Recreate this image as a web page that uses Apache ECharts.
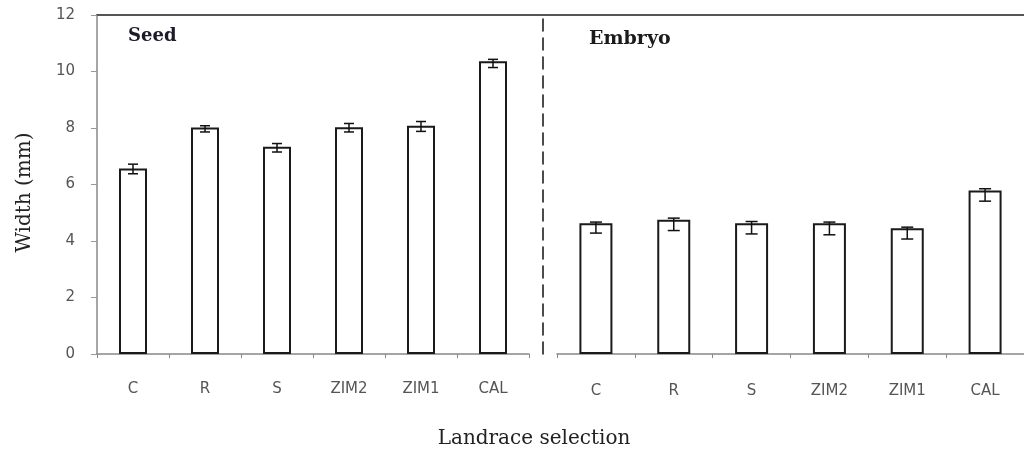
<!DOCTYPE html>
<html>
<head>
<meta charset="utf-8">
<script src="https://cdn.jsdelivr.net/npm/echarts@6/dist/echarts.min.js"></script>
<style>html,body{margin:0;padding:0;background:#fff;}#c{width:1024px;height:451px;}</style>
</head>
<body>
<div id="c"></div>
<script>
var seedCats = ['C', 'R', 'S', 'ZIM2', 'ZIM1', 'CAL'];
var embryoCats = ['C', 'R', 'S', 'ZIM2', 'ZIM1', 'CAL'];
var seedWidth = [6.57, 8.02, 7.34, 8.03, 8.08, 10.36];
var seedErrLow = [6.38, 7.86, 7.15, 7.86, 7.88, 10.14];
var seedErrHigh = [6.72, 8.08, 7.45, 8.16, 8.23, 10.43];
var embryoWidth = [4.63, 4.75, 4.63, 4.63, 4.45, 5.79];
var embryoErrLow = [4.28, 4.37, 4.25, 4.22, 4.07, 5.41];
var embryoErrHigh = [4.67, 4.81, 4.69, 4.67, 4.49, 5.85];
var yTicks = [0, 2, 4, 6, 8, 10, 12];

var chart = echarts.init(document.getElementById('c'), null, {renderer: 'canvas'});

function errItem(capHalf) {
  return function (params, api) {
    var x = api.value(0);
    var lo = api.coord([x, api.value(1)]);
    var hi = api.coord([x, api.value(2)]);
    var st = {stroke: '#111', lineWidth: 1.5};
    return {
      type: 'group',
      children: [
        {type: 'line', shape: {x1: lo[0], y1: lo[1], x2: hi[0], y2: hi[1]}, style: st},
        {type: 'line', shape: {x1: lo[0] - capHalf, y1: lo[1], x2: lo[0] + capHalf, y2: lo[1]}, style: st},
        {type: 'line', shape: {x1: hi[0] - capHalf, y1: hi[1], x2: hi[0] + capHalf, y2: hi[1]}, style: st}
      ]
    };
  };
}

function errData(lo, hi) {
  return lo.map(function (v, i) { return [i, v, hi[i]]; });
}

var tickFont = {fontFamily: 'DejaVu Sans', fontSize: 15, color: '#555'};

var option = {
  backgroundColor: '#fff',
  animation: false,
  title: [
    {text: 'Seed', left: 123, top: 22, textStyle: {fontFamily: 'DejaVu Serif', fontWeight: 'bold', fontSize: 18, color: '#1b1b2b'}},
    {text: 'Embryo', left: 584, top: 25, textStyle: {fontFamily: 'DejaVu Serif', fontWeight: 'bold', fontSize: 19, color: '#1b1b1b'}},
    {text: 'Landrace selection', left: 529, top: 424, textAlign: 'center', textStyle: {fontFamily: 'DejaVu Serif', fontWeight: 'normal', fontSize: 20, color: '#222'}}
  ],
  grid: [
    {left: 97, top: 15, width: 432, height: 339},
    {left: 557, top: 15, width: 480, height: 339},
    {left: 97, top: 15, width: 940, height: 339}
  ],
  xAxis: [
    {type: 'category', gridIndex: 0, data: seedCats,
      axisLine: {lineStyle: {color: '#888', width: 1.5}},
      axisTick: {show: true, length: 4, lineStyle: {color: '#888'}},
      axisLabel: Object.assign({margin: 28}, tickFont)},
    {type: 'category', gridIndex: 1, data: embryoCats,
      axisLine: {onZero: false, lineStyle: {color: '#888', width: 1.5}},
      axisTick: {show: true, length: 4, lineStyle: {color: '#888'}},
      axisLabel: Object.assign({margin: 30}, tickFont)},
    {type: 'value', gridIndex: 2, position: 'top', min: 0, max: 1,
      axisLine: {show: true, onZero: false, lineStyle: {color: '#555', width: 2}},
      axisTick: {show: false}, axisLabel: {show: false}, splitLine: {show: false}}
  ],
  yAxis: [
    {type: 'value', gridIndex: 0, min: 0, max: 12, interval: 2,
      name: 'Width (mm)', nameLocation: 'middle', nameGap: 62, nameRotate: 90,
      nameTextStyle: {fontFamily: 'DejaVu Serif', fontSize: 20, color: '#222', padding: [0, 16, 0, 0]},
      axisLine: {show: true, lineStyle: {color: '#888', width: 1.5}},
      axisTick: {show: true, length: 6, lineStyle: {color: '#999'}},
      axisLabel: Object.assign({margin: 22, formatter: function (v) { return yTicks.indexOf(v) >= 0 ? String(v) : ''; }}, tickFont),
      splitLine: {show: false}},
    {type: 'value', gridIndex: 1, min: 0, max: 12, interval: 2, offset: 14,
      axisLine: {show: true, lineStyle: {color: '#111', width: 1.5, type: [12, 7]}},
      axisTick: {show: false}, axisLabel: {show: false}, splitLine: {show: false}},
    {type: 'value', gridIndex: 2, min: 0, max: 1, show: false}
  ],
  series: [
    {type: 'bar', xAxisIndex: 0, yAxisIndex: 0, data: seedWidth, barWidth: 28,
      itemStyle: {color: '#fff', borderColor: '#1a1a1a', borderWidth: 2}},
    {type: 'custom', xAxisIndex: 0, yAxisIndex: 0, data: errData(seedErrLow, seedErrHigh),
      renderItem: errItem(5), z: 5},
    {type: 'bar', xAxisIndex: 1, yAxisIndex: 1, data: embryoWidth, barWidth: 33,
      itemStyle: {color: '#fff', borderColor: '#1a1a1a', borderWidth: 2}},
    {type: 'custom', xAxisIndex: 1, yAxisIndex: 1, data: errData(embryoErrLow, embryoErrHigh),
      renderItem: errItem(6), z: 5},
    {type: 'line', xAxisIndex: 2, yAxisIndex: 2, data: [], silent: true}
  ]
};
chart.setOption(option);
</script>
</body>
</html>
